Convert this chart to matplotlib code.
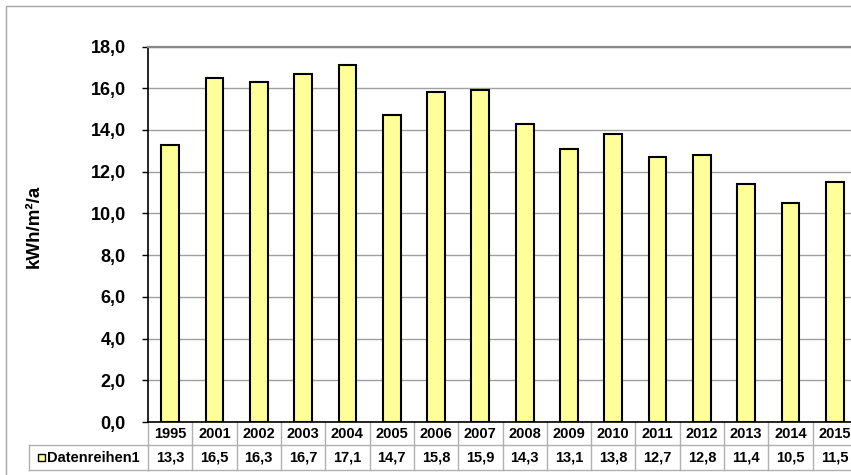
import numpy as np
import matplotlib.pyplot as plt

plt.rcParams['font.family'] = ['Liberation Sans', 'DejaVu Sans']

# data
years = ['1995', '2001', '2002', '2003', '2004', '2005', '2006', '2007',
         '2008', '2009', '2010', '2011', '2012', '2013', '2014', '2015']
values = [13.3, 16.5, 16.3, 16.7, 17.1, 14.7, 15.8, 15.9,
          14.3, 13.1, 13.8, 12.7, 12.8, 11.4, 10.5, 11.5]
series_name = 'Datenreihen1'
y_label = 'kWh/m²/a'
y_ticks = [0, 2, 4, 6, 8, 10, 12, 14, 16, 18]

W, H = 851, 475
fig = plt.figure(figsize=(W / 100, H / 100), dpi=100)

# chart area border (cut off on right/bottom in the original)
fig.patches.append(plt.Rectangle((6 / W, -0.1), 1.2, 1 - 6 / H + 0.1,
                                 transform=fig.transFigure, fill=False,
                                 edgecolor='#a6a6a6', lw=1.0))

left, right = 148 / W, 857 / W
bottom, top = 1 - 422 / H, 1 - 46.5 / H
ax = fig.add_axes([left, bottom, right - left, top - bottom])

x = np.arange(len(years))
ax.bar(x, values, width=0.4, color='#FFFF99', edgecolor='black', lw=1.5, zorder=3)

ax.set_xlim(-0.5, len(years) - 0.5)
ax.set_ylim(0, 18)
ax.set_yticks(y_ticks)
ax.set_yticklabels([f'{v:.1f}'.replace('.', ',') for v in y_ticks],
                   fontsize=13, fontweight='bold')
ax.set_xticks([])
ax.grid(axis='y', color='#a0a0a0', lw=1.0, zorder=0)
ax.tick_params(axis='y', length=4, width=1, pad=12)

ax.spines['right'].set_visible(False)
ax.spines['top'].set_color('#888888')
ax.spines['top'].set_linewidth(1.6)
ax.spines['left'].set_color('black')
ax.spines['bottom'].set_color('black')
ax.spines['left'].set_linewidth(1.2)
ax.spines['bottom'].set_linewidth(1.2)

fig.text(34 / W, 1 - 226 / H, y_label, rotation=90, ha='center', va='center',
         fontsize=13.5, fontweight='bold')

# data table
row1_top, row1_bot = 422, 445
row2_bot = 470
key_left = 29
tc = '#b0b0b0'
trans = ax.get_xaxis_transform()


def fy(py):
    # pixel row -> axes fraction
    return (1 - py / H - bottom) / (top - bottom)


for i in range(len(years) + 1):
    xb = i - 0.5
    ax.plot([xb, xb], [fy(row1_top), fy(row2_bot)], transform=trans,
            color=tc, lw=1, clip_on=False)
for py in [row1_bot, row2_bot]:
    ax.plot([-0.5, len(years) - 0.5], [fy(py), fy(py)], transform=trans,
            color=tc, lw=1, clip_on=False)
# legend cell borders
fig.add_artist(plt.Line2D([key_left / W, left], [1 - row1_bot / H] * 2, color=tc, lw=1))
fig.add_artist(plt.Line2D([key_left / W, left], [1 - row2_bot / H] * 2, color=tc, lw=1))
fig.add_artist(plt.Line2D([key_left / W] * 2, [1 - row1_bot / H, 1 - row2_bot / H], color=tc, lw=1))

for i, (yr, v) in enumerate(zip(years, values)):
    ax.text(i, fy(433.5), yr, transform=trans, ha='center',
            va='center', fontsize=10.5, fontweight='bold', clip_on=False)
    ax.text(i, fy(457.5), f'{v:.1f}'.replace('.', ','),
            transform=trans, ha='center', va='center', fontsize=10.5,
            fontweight='bold', clip_on=False)

# legend key and series name
fig.patches.append(plt.Rectangle((38 / W, 1 - 461 / H), 7 / W, 7 / H,
                                 transform=fig.transFigure, facecolor='#FFFF99',
                                 edgecolor='black', lw=1))
fig.text(47 / W, 1 - 457.5 / H, series_name, ha='left', va='center',
         fontsize=10.5, fontweight='bold')

fig.savefig('out.png', dpi=100)
